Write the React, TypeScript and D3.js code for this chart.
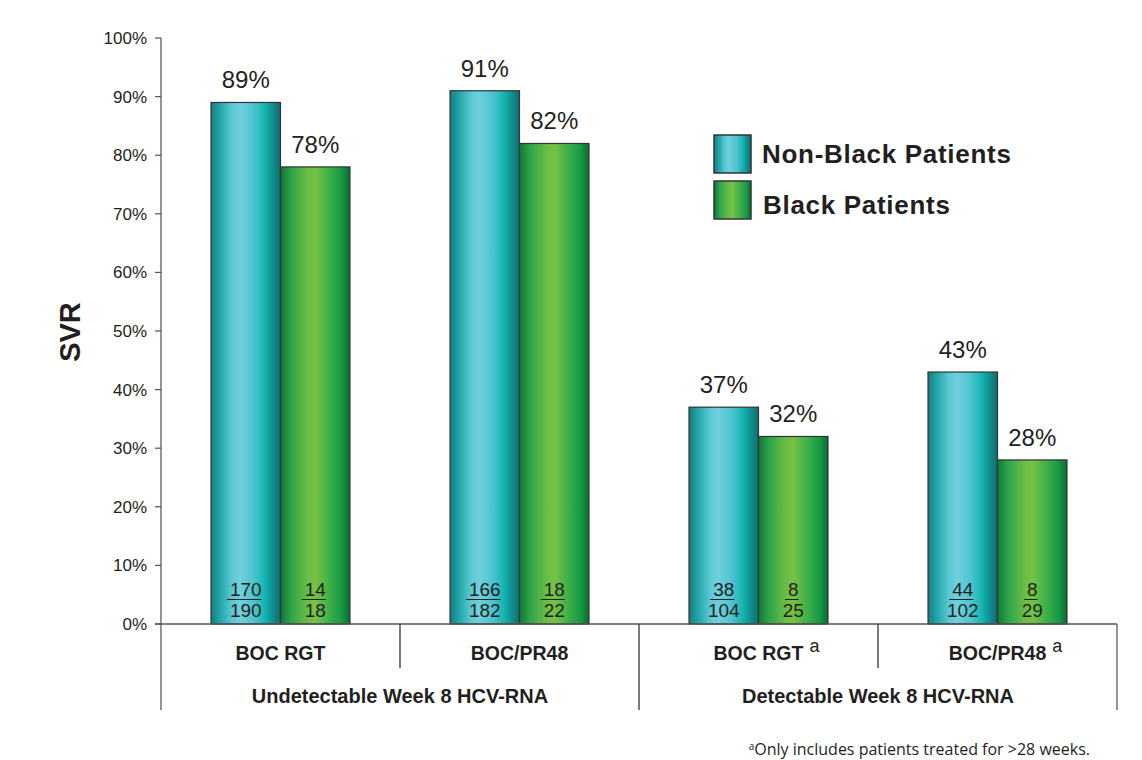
import React from "react";
import * as d3 from "d3";

// ---- Data ----
const categories = ["BOC RGT", "BOC/PR48", "BOC RGT", "BOC/PR48"];
const categoryNotes = ["", "", "a", "a"];
const groups = ["Undetectable Week 8 HCV-RNA", "Detectable Week 8 HCV-RNA"];
const seriesNames = ["Non-Black Patients", "Black Patients"];
const nonBlackSvr = [89, 91, 37, 43];
const blackSvr = [78, 82, 32, 28];
const nonBlackResponders = [170, 166, 38, 44];
const nonBlackTotals = [190, 182, 104, 102];
const blackResponders = [14, 18, 8, 8];
const blackTotals = [18, 22, 25, 29];
const yTicks = [0, 10, 20, 30, 40, 50, 60, 70, 80, 90, 100];
const footnote = "Only includes patients treated for >28 weeks.";

const W = 1142;
const H = 760;
const plot = { left: 161, right: 1117, top: 38, bottom: 624 };
const catLabelY = 660;
const shortDividerBottom = 668;
const axisBottom = 710;
const groupLabelY = 703;

const SANS = "'Liberation Sans', Arial, Helvetica, sans-serif";
const TEXT = "#231f20";

let ctx: CanvasRenderingContext2D | null = null;
function measure(text: string, font: string): number {
  if (!ctx) ctx = document.createElement("canvas").getContext("2d");
  if (!ctx) return text.length * 10;
  ctx.font = font;
  return ctx.measureText(text).width;
}

const seriesValues = [nonBlackSvr, blackSvr];
const seriesNum = [nonBlackResponders, blackResponders];
const seriesDen = [nonBlackTotals, blackTotals];
const seriesFill = ["url(#gradTeal)", "url(#gradGreen)"];

export default function App() {
  const y = d3.scaleLinear().domain([0, 100]).range([plot.bottom, plot.top]);
  const x = d3
    .scaleBand<number>()
    .domain(d3.range(categories.length))
    .range([plot.left, plot.right])
    .padding(0);
  const xs = d3
    .scaleBand<number>()
    .domain([0, 1])
    .range([0, x.bandwidth()])
    .paddingInner(0)
    .paddingOuter(0.72);
  const gx = d3
    .scaleBand<number>()
    .domain(d3.range(groups.length))
    .range([plot.left, plot.right])
    .padding(0);

  const catFont = `bold 19.5px ${SANS}`;
  const fracFont = `19px ${SANS}`;

  return (
    <svg width={W} height={H} style={{ display: "block", position: "absolute", left: 0, top: 0, background: "#fff" }}>
      <defs>
        <linearGradient id="gradTeal" x1="0" x2="1" y1="0" y2="0">
          <stop offset="0%" stopColor="#1a7c80" />
          <stop offset="12%" stopColor="#1fa3a6" />
          <stop offset="30%" stopColor="#5ac8d4" />
          <stop offset="42%" stopColor="#6fd0de" />
          <stop offset="62%" stopColor="#4cc3ce" />
          <stop offset="78%" stopColor="#12b4af" />
          <stop offset="92%" stopColor="#118486" />
          <stop offset="100%" stopColor="#0e6c6e" />
        </linearGradient>
        <linearGradient id="gradGreen" x1="0" x2="1" y1="0" y2="0">
          <stop offset="0%" stopColor="#0f7835" />
          <stop offset="15%" stopColor="#2ea34a" />
          <stop offset="40%" stopColor="#6bbe45" />
          <stop offset="50%" stopColor="#76c244" />
          <stop offset="70%" stopColor="#3fb04a" />
          <stop offset="88%" stopColor="#169a45" />
          <stop offset="100%" stopColor="#0a6c30" />
        </linearGradient>
      </defs>

      {/* Y axis */}
      <line x1={plot.left} x2={plot.left} y1={plot.top} y2={axisBottom} stroke="#7a7a7a" strokeWidth={1.6} />
      {yTicks.map((t) => (
        <g key={t}>
          <line x1={plot.left - 6} x2={plot.left} y1={y(t)} y2={y(t)} stroke="#555" strokeWidth={1.2} />
          <text x={147} y={y(t) + 6} textAnchor="end" fontFamily={SANS} fontSize={17} fill={TEXT}>
            {t}%
          </text>
        </g>
      ))}
      <text
        transform={`translate(80, ${(plot.top + plot.bottom) / 2 + 1}) rotate(-90)`}
        textAnchor="middle"
        fontFamily={SANS}
        fontWeight="bold"
        fontSize={29}
        fill={TEXT}
      >
        SVR
      </text>

      {/* Bars */}
      {categories.map((c, i) =>
        seriesValues.map((vals, s) => {
          const bx = (x(i) as number) + (xs(s) as number);
          const bw = xs.bandwidth();
          const top = y(vals[i]);
          const cx = bx + bw / 2;
          const numStr = String(seriesNum[s][i]);
          const nw = measure(numStr, fracFont);
          return (
            <g key={`${i}-${s}`}>
              <rect x={bx} y={top} width={bw} height={plot.bottom - top} fill={seriesFill[s]} stroke="#333" strokeWidth={1.2} />
              <text x={cx} y={top - 14} textAnchor="middle" fontFamily={SANS} fontSize={24} fill={TEXT}>
                {vals[i]}%
              </text>
              <text x={cx} y={596} textAnchor="middle" fontFamily={SANS} fontSize={19} fill={TEXT}>
                {numStr}
              </text>
              <line x1={cx - nw / 2 - 3} x2={cx + nw / 2} y1={599.5} y2={599.5} stroke={TEXT} strokeWidth={1} />
              <text x={cx} y={617} textAnchor="middle" fontFamily={SANS} fontSize={19} fill={TEXT}>
                {seriesDen[s][i]}
              </text>
            </g>
          );
        })
      )}

      {/* Baseline and category frame */}
      <line x1={plot.left - 6} x2={plot.right} y1={plot.bottom} y2={plot.bottom} stroke="#555" strokeWidth={1.6} />
      <line x1={plot.right} x2={plot.right} y1={plot.bottom} y2={axisBottom} stroke="#7a7a7a" strokeWidth={1.6} />
      {categories.map((c, i) => {
        if (i === 0) return null;
        const xx = x(i) as number;
        const isGroupEdge = i % 2 === 0;
        return (
          <line
            key={`div-${i}`}
            x1={xx}
            x2={xx}
            y1={plot.bottom}
            y2={isGroupEdge ? axisBottom : shortDividerBottom}
            stroke="#333"
            strokeWidth={1.3}
          />
        );
      })}

      {/* Category labels */}
      {categories.map((c, i) => {
        const cx = (x(i) as number) + x.bandwidth() / 2;
        const w = measure(c, catFont);
        return (
          <g key={`cat-${i}`}>
            <text x={cx} y={catLabelY} textAnchor="middle" fontFamily={SANS} fontWeight="bold" fontSize={19.5} fill={TEXT}>
              {c}
            </text>
            {categoryNotes[i] && (
              <text x={cx + w / 2 + 6} y={catLabelY - 8} fontFamily={SANS} fontSize={18} fill={TEXT}>
                {categoryNotes[i]}
              </text>
            )}
          </g>
        );
      })}

      {/* Group labels */}
      {groups.map((g, i) => (
        <text
          key={g}
          x={(gx(i) as number) + gx.bandwidth() / 2}
          y={groupLabelY}
          textAnchor="middle"
          fontFamily={SANS}
          fontWeight="bold"
          fontSize={20}
          fill={TEXT}
        >
          {g}
        </text>
      ))}

      {/* Legend */}
      {seriesNames.map((name, s) => (
        <g key={name} transform={`translate(714, ${135 + s * 46})`}>
          <rect x={0} y={0} width={37} height={38} fill={seriesFill[s]} stroke="#333" strokeWidth={1.5} />
          <text x={48 + s} y={28 + s * 5} fontFamily={SANS} fontWeight="bold" fontSize={26} letterSpacing={0.7} fill={TEXT}>
            {name}
          </text>
        </g>
      ))}

      {/* Footnote */}
      <text x={1090} y={755} textAnchor="end" fontFamily="'Open Sans', 'Noto Sans', sans-serif" fontSize={16} fill={TEXT}>
        <tspan fontSize={10} dy={-5}>a</tspan>
        <tspan dy={5}>{footnote}</tspan>
      </text>
    </svg>
  );
}
